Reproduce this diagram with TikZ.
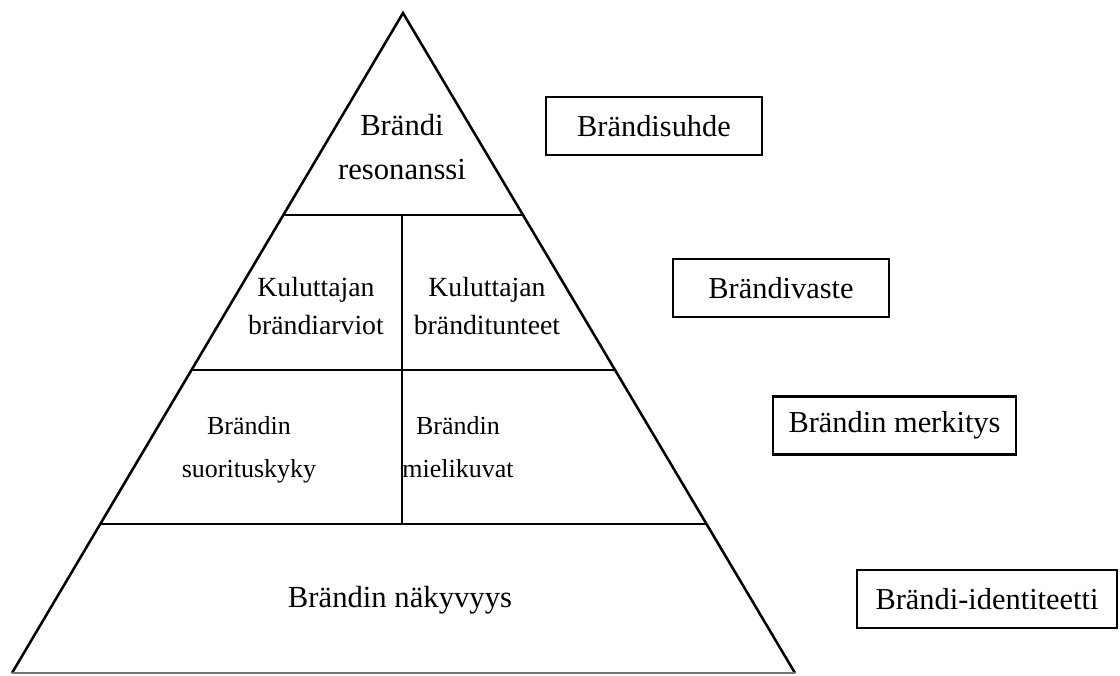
\documentclass[tikz,border=0pt]{standalone}
\usepackage{fontspec}
\setmainfont{Liberation Serif}
\usetikzlibrary{calc}

\begin{document}
\begin{tikzpicture}[x=0.75pt,y=-0.75pt]
    \tikzstyle{edge}=[line width=1.9pt,line join=miter]
    \tikzstyle{floor}=[line width=1pt,black!55]
    \tikzstyle{tier}=[align=center,inner sep=0pt,font=\fontsize{19.5}{32}\selectfont]
    \tikzstyle{tiersmall}=[align=center,inner sep=0pt,font=\fontsize{20.8}{28.5}\selectfont]
    \tikzstyle{tiertop}=[align=center,inner sep=0pt,font=\fontsize{23}{33}\selectfont]
    \tikzstyle{stage}=[draw,line width=2.2pt,inner sep=0pt,minimum height=43.5pt,font=\fontsize{22.8}{27}\selectfont]

    \useasboundingbox (0,0) rectangle (1120,675);

    \coordinate (top) at (403,13);
    \coordinate (bl) at (12,673);
    \coordinate (br) at (795,673);

    \coordinate (l1) at ($(bl)!0.6939!(top)$);
    \coordinate (r1) at ($(br)!0.6939!(top)$);
    \coordinate (l2) at ($(bl)!0.4591!(top)$);
    \coordinate (r2) at ($(br)!0.4591!(top)$);
    \coordinate (l3) at ($(bl)!0.2258!(top)$);
    \coordinate (r3) at ($(br)!0.2258!(top)$);
    \coordinate (m1) at (402,215);
    \coordinate (m3) at (402,524);

    \draw [edge] (bl) -- (top) -- (br);
    \draw [floor] (bl) -- (br);
    \draw [edge] (l1) -- (r1);
    \draw [edge] (l2) -- (r2);
    \draw [edge] (l3) -- (r3);
    \draw [edge] (m1) -- (m3);

    \node(reso) [tiertop] at (402,147) {Brändi\\resonanssi};
    \node(arv)  [tiersmall] at (316,306) {Kuluttajan\\brändiarviot};
    \node(tun)  [tiersmall] at (487,306) {Kuluttajan\\bränditunteet};
    \node(suor) [tier] at (249,450) {Brändin\\suorituskyky};
    \node(miel) [tier] at (458,447) {Brändin\\mielikuvat};
    \node(nak)  [tiertop,anchor=base] at (400,607) {Brändin näkyvyys};

    \node(suhde) [stage,minimum width=162pt] at (654,126) {Brändisuhde};
    \node(vaste) [stage,minimum width=162pt] at (781,288) {Brändivaste};
    \node(merk)  [stage,minimum width=182.25pt] at (894.5,425.5) {Brändin merkitys};
    \node(ident) [stage,minimum width=195pt] at (987,599) {Brändi-identiteetti};

\end{tikzpicture}
\end{document}
